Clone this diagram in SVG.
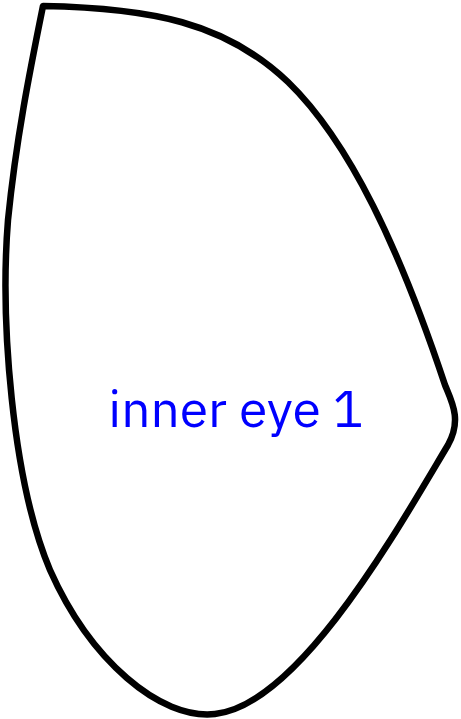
<svg xmlns="http://www.w3.org/2000/svg" width="461" height="719" viewBox="0 0 461 719">
<style>
.outline{fill:#fff;stroke:#000;stroke-width:6.5;stroke-linejoin:round}
.lbl{font-family:"IBM Plex Sans","Noto Sans",sans-serif;font-size:51.5px;fill:#0000ff;text-anchor:middle}
</style>
<g id="inner-eye-1">
<path class="outline" d="M 43 6 C 150 8, 225 22, 288 82 C 350 142, 400 250, 445 385 C 452 402, 462 420, 448 445 C 400 525, 300 705, 215 714 C 160 720, 90 660, 50 570 C 12 480, 0 320, 8 220 C 16 140, 30 70, 43 6 Z"/>
<text class="lbl" x="236" y="427">inner eye 1</text>
</g>
</svg>
